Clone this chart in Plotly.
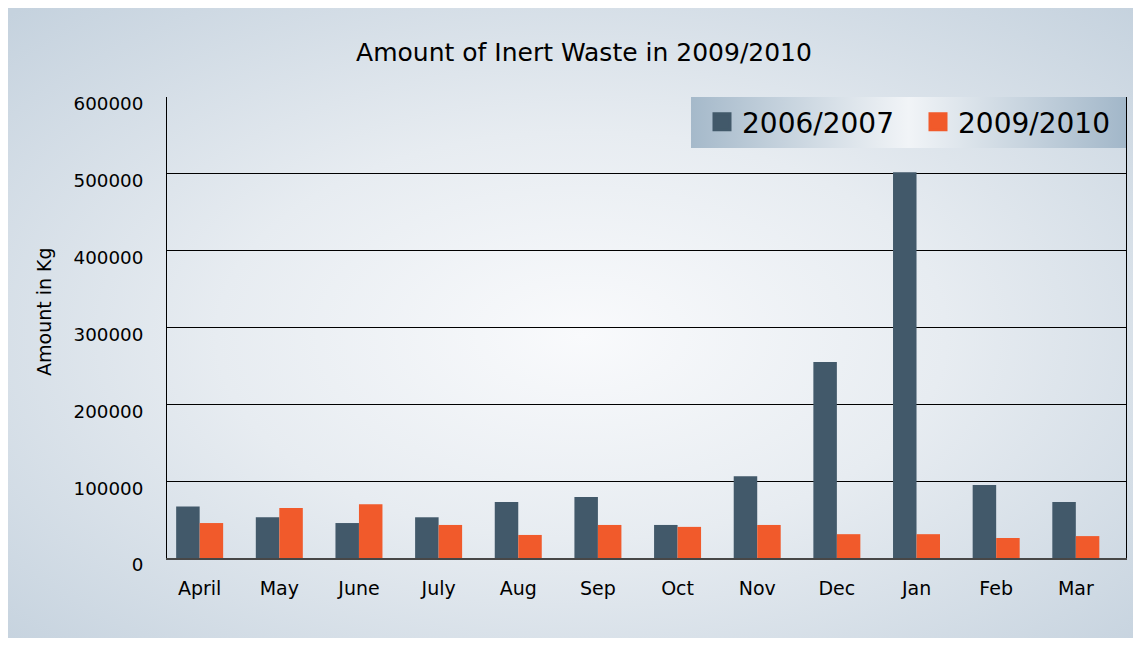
import base64
import plotly.graph_objects as go

months = ["April", "May", "June", "July", "Aug", "Sep", "Oct", "Nov", "Dec", "Jan", "Feb", "Mar"]
series_names = ["2006/2007", "2009/2010"]
values_2006 = [67000, 53000, 45500, 53000, 73000, 79500, 43000, 106500, 255000, 502000, 95000, 73000]
values_2009 = [45500, 65000, 70000, 43000, 30000, 43000, 40500, 43000, 31000, 31000, 26000, 28500]
y_ticks = [0, 100000, 200000, 300000, 400000, 500000, 600000]

colors = ["#42596a", "#f15a2b"]

# figure is placed by the page at an 8px offset, so everything is laid out in figure coords
W, H = 1125, 630
L, R, T, B = 159, 1118, 89, 550
pw, ph = R - L, B - T

# background (radial gradient) + legend strip (linear gradient)
lx0, ly0, lx1, ly1 = 683, 89, 1118, 140
svg = f'''<svg xmlns="http://www.w3.org/2000/svg" width="{W}" height="{H}" viewBox="0 0 {W} {H}" preserveAspectRatio="none">
<defs>
<radialGradient id="bg" cx="0.51" cy="0.52" r="0.72" gradientUnits="objectBoundingBox">
<stop offset="0" stop-color="#f9fafc"/>
<stop offset="0.45" stop-color="#e7ecf1"/>
<stop offset="1" stop-color="#c5d2de"/>
</radialGradient>
<linearGradient id="lg" x1="0" y1="0" x2="1" y2="0">
<stop offset="0" stop-color="#a5b9ca"/>
<stop offset="0.5" stop-color="#f1f4f7"/>
<stop offset="1" stop-color="#a2b7c9"/>
</linearGradient>
</defs>
<rect x="0" y="0" width="{W}" height="{H}" fill="url(#bg)"/>
<rect x="{lx0}" y="{ly0}" width="{lx1-lx0}" height="{ly1-ly0}" fill="url(#lg)"/>
</svg>'''
src = "data:image/svg+xml;base64," + base64.b64encode(svg.encode()).decode()

fig = go.Figure()
fig.add_trace(go.Bar(x=months, y=values_2006, name=series_names[0],
                     marker=dict(color=colors[0], line=dict(width=0)), showlegend=False))
fig.add_trace(go.Bar(x=months, y=values_2009, name=series_names[1],
                     marker=dict(color=colors[1], line=dict(width=0)), showlegend=False))
for nm, c in zip(series_names, colors):
    fig.add_trace(go.Scatter(x=[None], y=[None], mode="markers", name=nm,
                             marker=dict(symbol="square", size=16, color=c,
                                         line=dict(color=c, width=3)),
                             showlegend=True, hoverinfo="skip"))

font_family = "DejaVu Sans"

fig.update_layout(
    width=W, height=H, autosize=False,
    margin=dict(l=L, r=W - R, t=T, b=H - B, pad=0, autoexpand=False),
    paper_bgcolor="#d3dde6",
    plot_bgcolor="rgba(0,0,0,0)",
    barmode="group", bargap=0.41, bargroupgap=0,
    font=dict(family=font_family, color="black"),
    title=dict(text="Amount of Inert Waste in 2009/2010", x=576 / W, xref="container",
               xanchor="center", y=1 - 44 / H, yref="container", yanchor="middle",
               font=dict(size=25, family=font_family, color="black")),
    showlegend=True,
    legend=dict(orientation="h", x=(694 - L) / pw, xanchor="left",
                y=(B - 114) / ph, yanchor="middle",
                bgcolor="rgba(0,0,0,0)", borderwidth=0,
                font=dict(size=28, family=font_family, color="black"),
                entrywidthmode="pixels", entrywidth=171,
                itemsizing="trace"),
    xaxis=dict(type="category", categoryorder="array", categoryarray=months,
               range=[-0.41, 11.63], showgrid=False, showline=True,
               linecolor="#474747", linewidth=2, mirror=False,
               ticks="", ticklabelstandoff=12, automargin=False,
               tickfont=dict(size=19, family=font_family, color="black"),
               zeroline=False, fixedrange=True),
    yaxis=dict(range=[0, 600000], tickvals=y_ticks, tickformat="d",
               showgrid=True, gridcolor="black", gridwidth=1,
               showline=True, linecolor="black", linewidth=1, mirror=True,
               zeroline=False, ticks="", ticklabelstandoff=19, ticklabelshift=7,
               automargin=False,
               tickfont=dict(size=18.3, family=font_family, color="black"),
               fixedrange=True),
    images=[dict(source=src, xref="paper", yref="paper",
                 x=-L / pw, y=B / ph, sizex=W / pw, sizey=H / ph,
                 xanchor="left", yanchor="top", sizing="stretch", layer="below")],
    annotations=[dict(text="Amount in Kg", textangle=-90, xref="paper", yref="paper",
                      x=(36 - L) / pw, y=(B - 303) / ph, xanchor="center", yanchor="middle",
                      showarrow=False, font=dict(size=19, family=font_family, color="black"))],
)

fig.write_html("out.html")
